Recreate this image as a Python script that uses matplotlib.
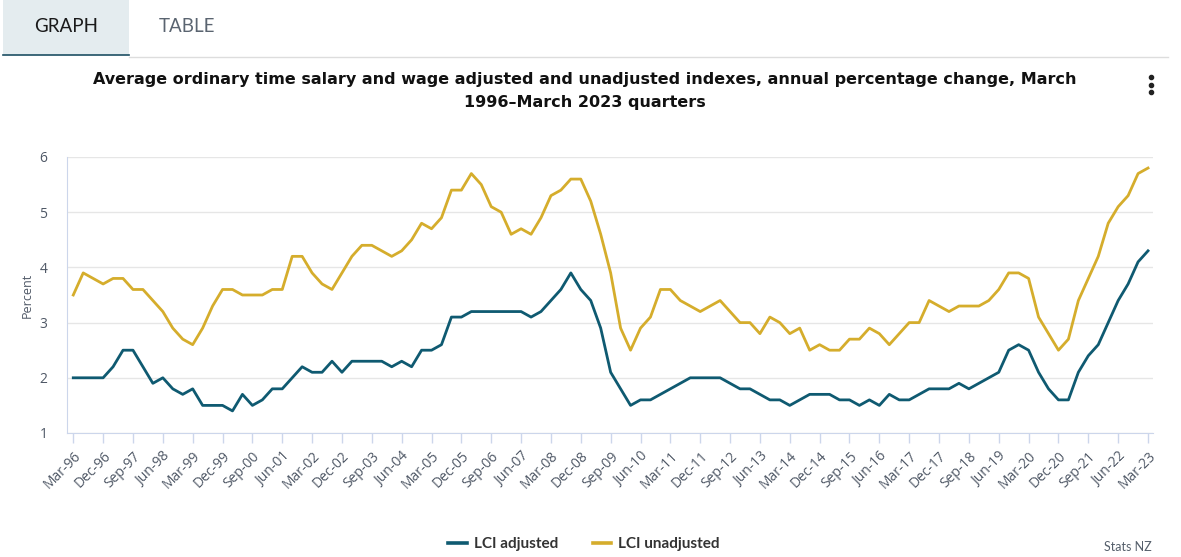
import numpy as np
import matplotlib
matplotlib.use('Agg')
import matplotlib.pyplot as plt
from matplotlib.patches import Rectangle
from matplotlib.lines import Line2D

plt.rcParams['font.family'] = ['Open Sans', 'DejaVu Sans']

# annual % change, March 1996 - March 2023 quarters
lci_adjusted = [
    2.0, 2.0, 2.0, 2.0, 2.2, 2.5, 2.5, 2.2, 1.9, 2.0,
    1.8, 1.7, 1.8, 1.5, 1.5, 1.5, 1.4, 1.7, 1.5, 1.6,
    1.8, 1.8, 2.0, 2.2, 2.1, 2.1, 2.3, 2.1, 2.3, 2.3,
    2.3, 2.3, 2.2, 2.3, 2.2, 2.5, 2.5, 2.6, 3.1, 3.1,
    3.2, 3.2, 3.2, 3.2, 3.2, 3.2, 3.1, 3.2, 3.4, 3.6,
    3.9, 3.6, 3.4, 2.9, 2.1, 1.8, 1.5, 1.6, 1.6, 1.7,
    1.8, 1.9, 2.0, 2.0, 2.0, 2.0, 1.9, 1.8, 1.8, 1.7,
    1.6, 1.6, 1.5, 1.6, 1.7, 1.7, 1.7, 1.6, 1.6, 1.5,
    1.6, 1.5, 1.7, 1.6, 1.6, 1.7, 1.8, 1.8, 1.8, 1.9,
    1.8, 1.9, 2.0, 2.1, 2.5, 2.6, 2.5, 2.1, 1.8, 1.6,
    1.6, 2.1, 2.4, 2.6, 3.0, 3.4, 3.7, 4.1, 4.3,
]
lci_unadjusted = [
    3.5, 3.9, 3.8, 3.7, 3.8, 3.8, 3.6, 3.6, 3.4, 3.2,
    2.9, 2.7, 2.6, 2.9, 3.3, 3.6, 3.6, 3.5, 3.5, 3.5,
    3.6, 3.6, 4.2, 4.2, 3.9, 3.7, 3.6, 3.9, 4.2, 4.4,
    4.4, 4.3, 4.2, 4.3, 4.5, 4.8, 4.7, 4.9, 5.4, 5.4,
    5.7, 5.5, 5.1, 5.0, 4.6, 4.7, 4.6, 4.9, 5.3, 5.4,
    5.6, 5.6, 5.2, 4.6, 3.9, 2.9, 2.5, 2.9, 3.1, 3.6,
    3.6, 3.4, 3.3, 3.2, 3.3, 3.4, 3.2, 3.0, 3.0, 2.8,
    3.1, 3.0, 2.8, 2.9, 2.5, 2.6, 2.5, 2.5, 2.7, 2.7,
    2.9, 2.8, 2.6, 2.8, 3.0, 3.0, 3.4, 3.3, 3.2, 3.3,
    3.3, 3.3, 3.4, 3.6, 3.9, 3.9, 3.8, 3.1, 2.8, 2.5,
    2.7, 3.4, 3.8, 4.2, 4.8, 5.1, 5.3, 5.7, 5.8,
]
tick_labels = [
    'Mar-96', 'Dec-96', 'Sep-97', 'Jun-98', 'Mar-99', 'Dec-99', 'Sep-00',
    'Jun-01', 'Mar-02', 'Dec-02', 'Sep-03', 'Jun-04', 'Mar-05', 'Dec-05',
    'Sep-06', 'Jun-07', 'Mar-08', 'Dec-08', 'Sep-09', 'Jun-10', 'Mar-11',
    'Dec-11', 'Sep-12', 'Jun-13', 'Mar-14', 'Dec-14', 'Sep-15', 'Jun-16',
    'Mar-17', 'Dec-17', 'Sep-18', 'Jun-19', 'Mar-20', 'Dec-20', 'Sep-21',
    'Jun-22', 'Mar-23',
]

TEAL = '#0f5a71'
GOLD = '#d5ad2c'
AXIS = '#ccd6eb'
LABEL = '#4f5866'
W, H = 1181, 557


def fx(px):
    return px / W


def fy(py):
    return 1 - py / H


fig = plt.figure(figsize=(W / 100, H / 100), dpi=100)

# tab bar
fig.patches.append(Rectangle((fx(3), fy(55)), fx(126), 55 / H, transform=fig.transFigure,
                             facecolor='#e4ecef', edgecolor='none'))
fig.add_artist(Line2D([fx(3), fx(129)], [fy(55), fy(55)], color='#1d4f63', lw=1.2))
fig.add_artist(Line2D([fx(129), fx(1168)], [fy(57), fy(57)], color='#dddddd', lw=1))
fig.text(fx(66), fy(27), 'GRAPH', ha='center', va='center', fontsize=13.5,
         family=['Lato', 'DejaVu Sans'], color='#1a1a1a')
fig.text(fx(187), fy(27), 'TABLE', ha='center', va='center', fontsize=13.5,
         family=['Lato', 'DejaVu Sans'], color='#5a6470')

fig.text(fx(585), fy(91), 'Average ordinary time salary and wage adjusted and unadjusted indexes, '
         'annual percentage change, March\n1996\u2013March 2023 quarters',
         ha='center', va='center', fontsize=11.5, fontweight='bold', color='#111111',
         family=['DejaVu Sans'], linespacing=1.6)
for dy in (77, 84.5, 92):
    fig.add_artist(Line2D([fx(1151)], [fy(dy)], marker='o', markersize=3,
                          color='#222222', lw=0))

ax = fig.add_axes([fx(67), fy(433), fx(1153) - fx(67), (433 - 157) / H])
x = np.arange(len(lci_adjusted))
ax.plot(x, lci_adjusted, color=TEAL, lw=2, label='LCI adjusted', zorder=3)
ax.plot(x, lci_unadjusted, color=GOLD, lw=2, label='LCI unadjusted', zorder=3)

ax.set_xlim(-0.63, 108.5)
ax.set_ylim(1, 6)
ax.set_yticks([1, 2, 3, 4, 5, 6])
ax.set_xticks(np.arange(0, len(x), 3))
ax.set_xticklabels(tick_labels, rotation=45, ha='right', rotation_mode='anchor',
                   fontsize=10, color=LABEL)
ax.tick_params(axis='x', length=7.5, width=1, color=AXIS, pad=4)
ax.tick_params(axis='y', length=0, pad=14, labelsize=10, labelcolor=LABEL)
ax.grid(axis='y', color='#e6e6e6', lw=1)
ax.set_axisbelow(True)
for s in ('top', 'right'):
    ax.spines[s].set_visible(False)
ax.spines['left'].set_color(AXIS)
ax.spines['bottom'].set_color(AXIS)
ax.set_ylabel('Percent', fontsize=9, color=LABEL, labelpad=4)

leg = fig.legend(loc='center', bbox_to_anchor=(fx(584), fy(544)), ncol=2, frameon=False,
                 handlelength=1.2, columnspacing=2.3, handletextpad=0.45,
                 prop={'family': ['Lato'], 'weight': 'bold', 'size': 11})
for t in leg.get_texts():
    t.set_color('#333333')
for h in leg.legend_handles:
    h.set_linewidth(2.6)

fig.text(fx(1128), fy(547), 'Stats NZ', ha='center', va='center', fontsize=9,
         family=['Lato', 'DejaVu Sans'], color='#555f6b')

fig.savefig('out.png', dpi=100)
